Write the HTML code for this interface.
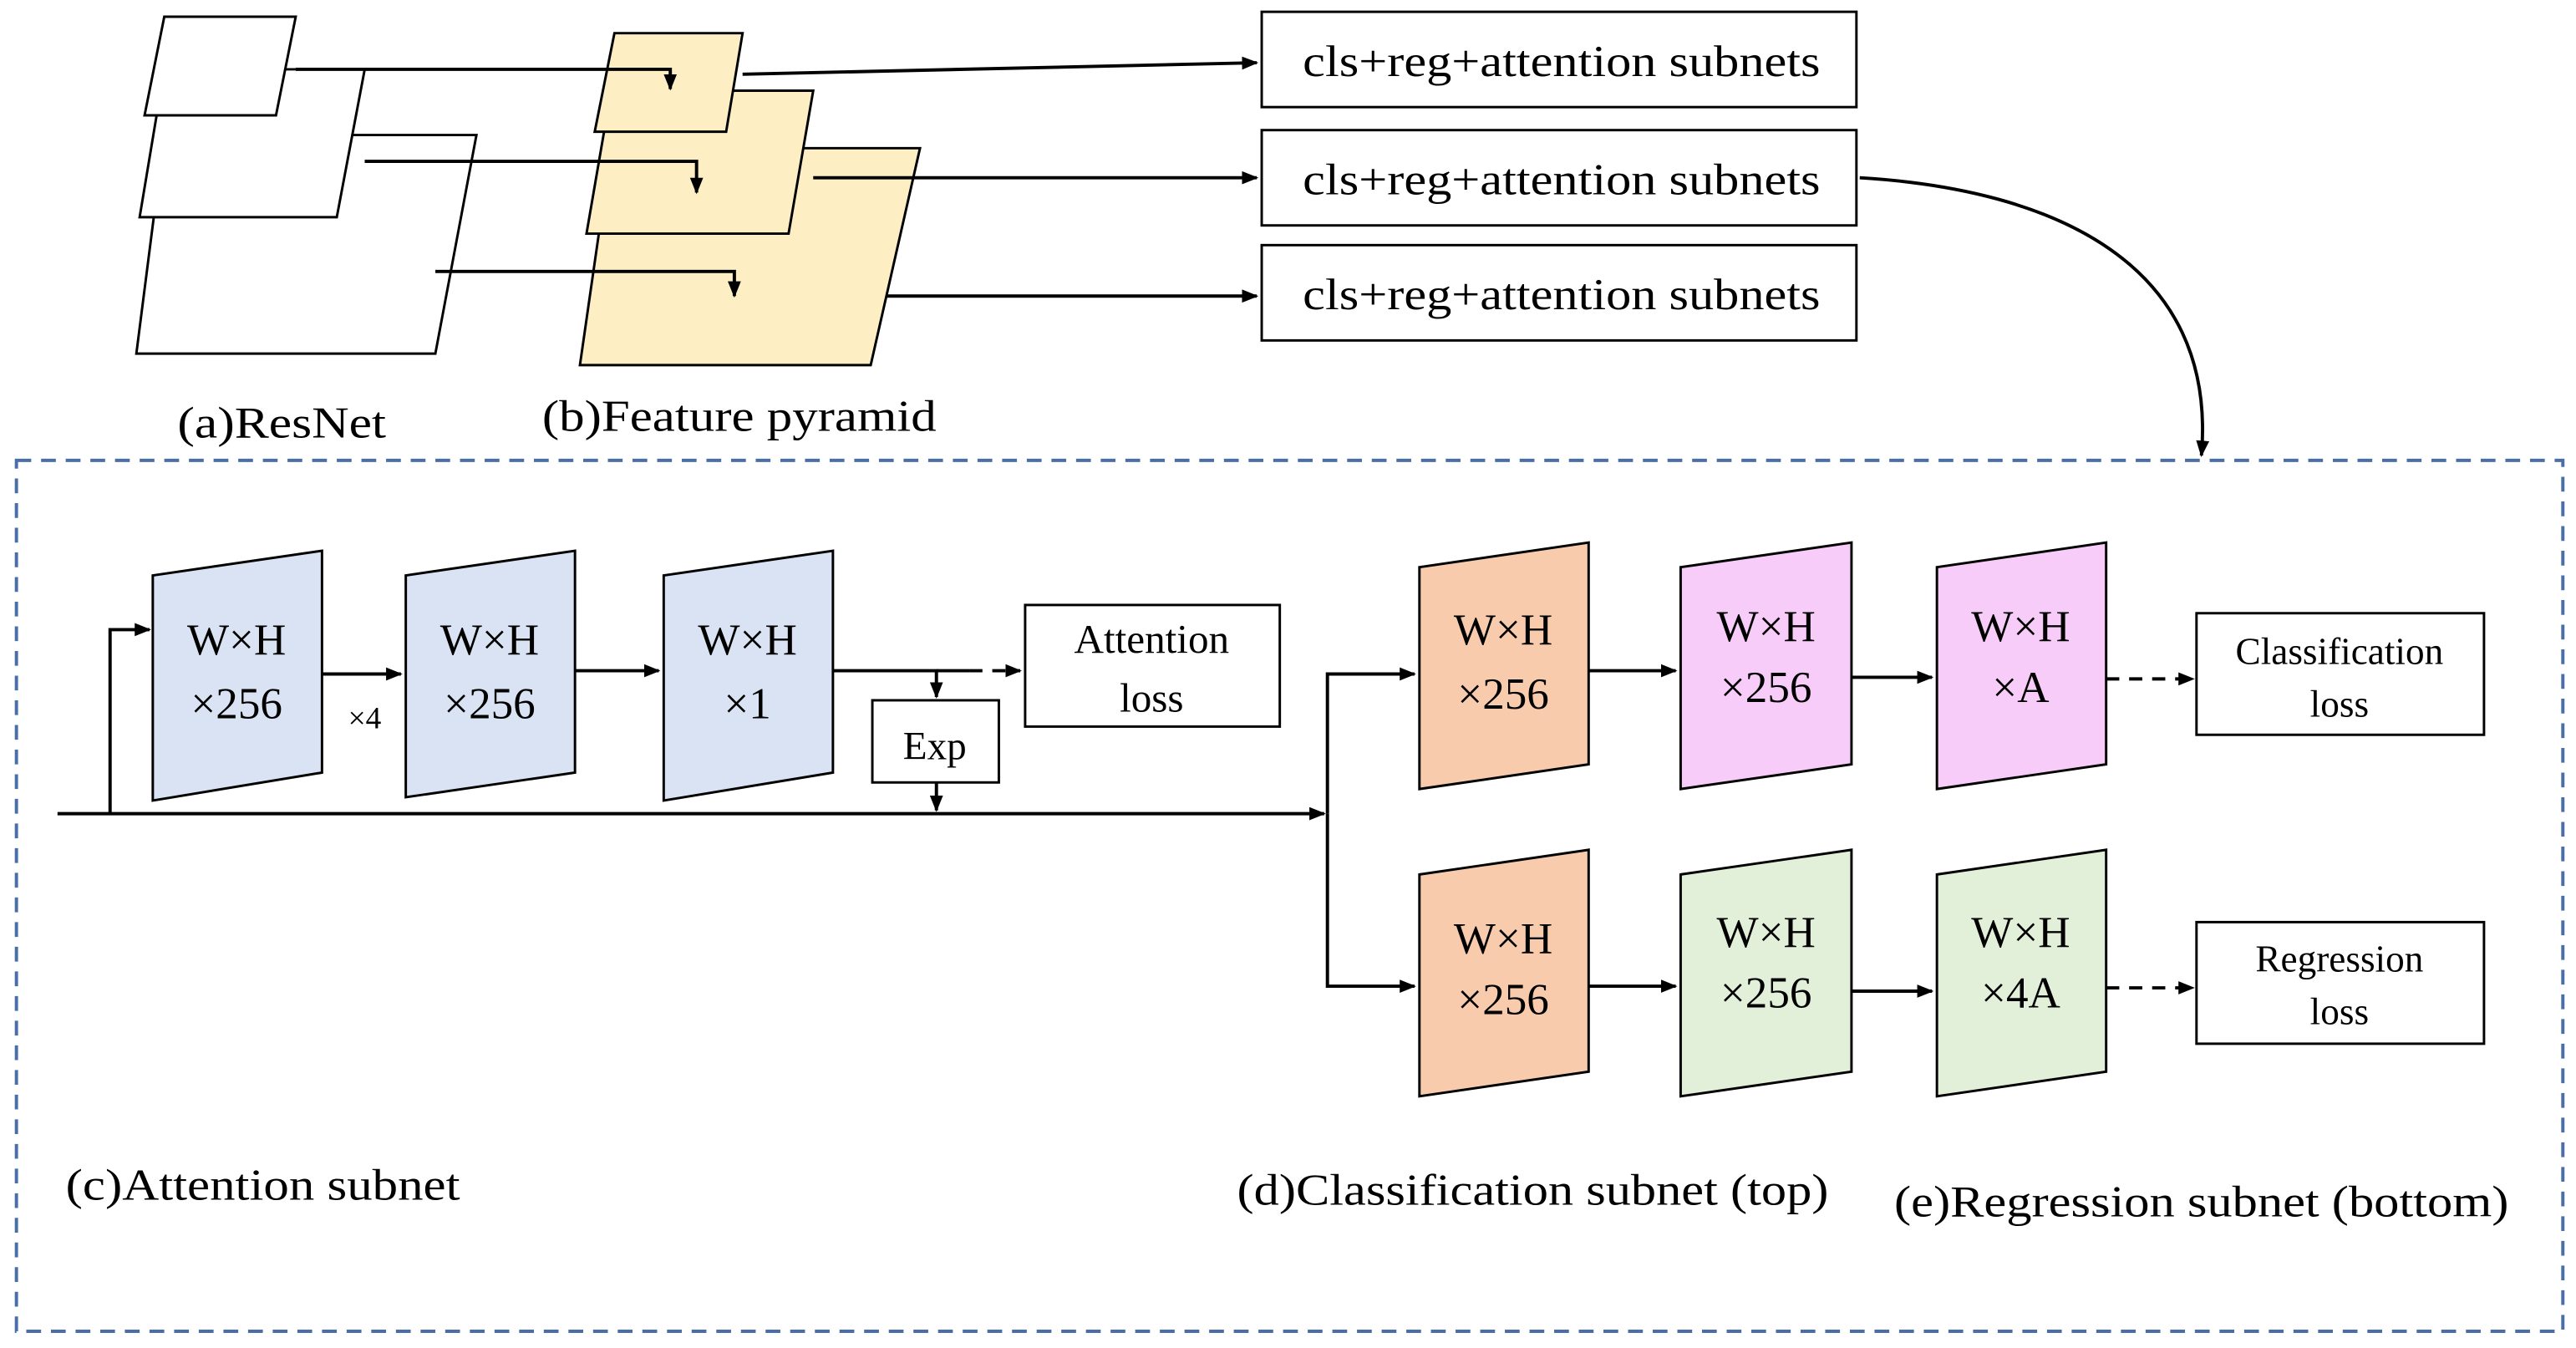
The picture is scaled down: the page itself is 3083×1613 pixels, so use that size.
<!DOCTYPE html>
<html><head><meta charset="utf-8"><style>html,body{margin:0;padding:0;background:#fff}svg{display:block}</style></head><body>
<svg width="3083" height="1613" viewBox="0 0 1568 820" xmlns="http://www.w3.org/2000/svg" font-family="Liberation Serif, serif" fill="none" stroke="#000">
<defs><marker id="a" markerWidth="10" markerHeight="10" refX="9" refY="5" orient="auto" markerUnits="userSpaceOnUse"><path d="M0,1 L10,5 L0,9 z" fill="#000" stroke="none"/></marker></defs>
<g stroke-width="1.5">
<polygon points="100,82 290,82 265,215 83,215" fill="#fff"/>
<polygon points="100,42 222,42 205,132 85,132" fill="#fff"/>
<polygon points="100,10 180,10 168,70 88,70" fill="#fff"/>
<polygon points="372,90 560,90 530,222 353,222" fill="#fdeec4"/>
<polygon points="372,55 495,55 480,142 357,142" fill="#fdeec4"/>
<polygon points="374,20 452,20 442,80 362,80" fill="#fdeec4"/>
</g>
<g stroke-width="2">
<path d="M180,42 H408 V54" marker-end="url(#a)"/>
<path d="M222,98 H424 V117" marker-end="url(#a)"/>
<path d="M265,165 H447 V180" marker-end="url(#a)"/>
<path d="M452,45 L765,38" marker-end="url(#a)"/>
<path d="M495,108 H765" marker-end="url(#a)"/>
<path d="M540,180 H765" marker-end="url(#a)"/>
<path d="M1132,108 C1250,115 1350,160 1340,277" marker-end="url(#a)"/>
</g>
<g stroke-width="1.5" fill="#fff">
<rect x="768" y="7" width="362" height="58"/><rect x="768" y="79" width="362" height="58"/><rect x="768" y="149" width="362" height="58"/>
</g>
<g fill="#000" stroke="none" font-size="27">
<text x="793" y="46" textLength="315" lengthAdjust="spacingAndGlyphs">cls+reg+attention subnets</text>
<text x="793" y="118" textLength="315" lengthAdjust="spacingAndGlyphs">cls+reg+attention subnets</text>
<text x="793" y="188" textLength="315" lengthAdjust="spacingAndGlyphs">cls+reg+attention subnets</text>
</g>
<g fill="#000" stroke="none" font-size="27">
<text x="108" y="266" textLength="127" lengthAdjust="spacingAndGlyphs">(a)ResNet</text>
<text x="330" y="262" textLength="240" lengthAdjust="spacingAndGlyphs">(b)Feature pyramid</text>
<text x="40" y="730" textLength="240" lengthAdjust="spacingAndGlyphs">(c)Attention subnet</text>
<text x="753" y="733" textLength="360" lengthAdjust="spacingAndGlyphs">(d)Classification subnet (top)</text>
<text x="1153" y="740" textLength="374" lengthAdjust="spacingAndGlyphs">(e)Regression subnet (bottom)</text>
</g>
<rect x="10" y="280" width="1550" height="530" stroke="#4a6fa8" stroke-width="2" stroke-dasharray="9,6"/>
<g stroke-width="2">
<path d="M35,495 H806" marker-end="url(#a)"/>
<path d="M67,495 V383 H91" marker-end="url(#a)"/>
<path d="M196,410 H244" marker-end="url(#a)"/>
<path d="M350,408 H401" marker-end="url(#a)"/>
<path d="M507,408 H570 V424" marker-end="url(#a)"/>
<path d="M570,408 H590"/><path d="M590,408 H621" stroke-dasharray="8,6" marker-end="url(#a)"/>
<path d="M570,476 V493" marker-end="url(#a)"/>
<path d="M808,495 V410 H861" marker-end="url(#a)"/>
<path d="M808,495 V600 H861" marker-end="url(#a)"/>
<path d="M967,408 H1020" marker-end="url(#a)"/>
<path d="M1127,412 H1176" marker-end="url(#a)"/>
<path d="M967,600 H1020" marker-end="url(#a)"/>
<path d="M1127,603 H1176" marker-end="url(#a)"/>
<path d="M1282,413 H1335" stroke-dasharray="8,6" marker-end="url(#a)"/>
<path d="M1282,601 H1335" stroke-dasharray="8,6" marker-end="url(#a)"/>
</g>
<g stroke-width="1.5">
<polygon points="93,350 196,335 196,470 93,487" fill="#dae3f3"/>
<polygon points="247,350 350,335 350,470 247,485" fill="#dae3f3"/>
<polygon points="404,350 507,335 507,470 404,487" fill="#dae3f3"/>
<polygon points="864,345 967,330 967,465 864,480" fill="#f8cbad"/>
<polygon points="1023,345 1127,330 1127,465 1023,480" fill="#f8ccf8"/>
<polygon points="1179,345 1282,330 1282,465 1179,480" fill="#f8ccf8"/>
<polygon points="864,532 967,517 967,652 864,667" fill="#f8cbad"/>
<polygon points="1023,532 1127,517 1127,652 1023,667" fill="#e2f0d9"/>
<polygon points="1179,532 1282,517 1282,652 1179,667" fill="#e2f0d9"/>
<rect x="531" y="426" width="77" height="50" fill="#fff"/>
<rect x="624" y="368" width="155" height="74" fill="#fff"/>
<rect x="1337" y="373" width="175" height="74" fill="#fff"/>
<rect x="1337" y="561" width="175" height="74" fill="#fff"/>
</g>
<g fill="#000" stroke="none" font-size="27" text-anchor="middle">
<text x="144" y="398">W×H</text><text x="144" y="437">×256</text>
<text x="298" y="398">W×H</text><text x="298" y="437">×256</text>
<text x="455" y="398">W×H</text><text x="455" y="437">×1</text>
<text x="915" y="392">W×H</text><text x="915" y="431">×256</text>
<text x="1075" y="390">W×H</text><text x="1075" y="427">×256</text>
<text x="1230" y="390">W×H</text><text x="1230" y="427">×A</text>
<text x="915" y="580">W×H</text><text x="915" y="617">×256</text>
<text x="1075" y="576">W×H</text><text x="1075" y="613">×256</text>
<text x="1230" y="576">W×H</text><text x="1230" y="613">×4A</text>
<text x="569" y="462" font-size="24">Exp</text>
<text x="701" y="397" font-size="25">Attention</text><text x="701" y="433" font-size="25">loss</text>
<text x="1424" y="404" font-size="23">Classification</text><text x="1424" y="436" font-size="23">loss</text>
<text x="1424" y="591" font-size="23">Regression</text><text x="1424" y="623" font-size="23">loss</text>
<text x="222" y="443" font-size="19">×4</text>
</g>
</svg>
</body></html>
